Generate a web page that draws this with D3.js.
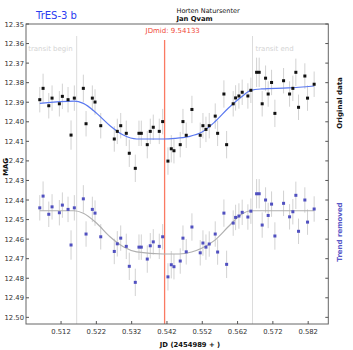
<!DOCTYPE html>
<html><head><meta charset="utf-8">
<script src="https://cdn.jsdelivr.net/npm/d3@7/dist/d3.min.js"></script>
<style>body{margin:0;background:#fff;}svg{display:block;}</style>
</head><body>
<svg id="c" width="353" height="350"></svg>
<script>
const title = "TrES-3 b";
const observatory = "Horten Natursenter";
const observer = "Jan Qvam";
const jdMid = 0.54133;
const transitBegin = 0.51643;
const transitEnd = 0.56623;
const xTicks = [0.512,0.522,0.532,0.542,0.552,0.562,0.572,0.582];
const yTicks = [12.35,12.36,12.37,12.38,12.39,12.40,12.41,12.42,12.43,12.44,12.45,12.46,12.47,12.48,12.49,12.50];

const jd = [0.50597,0.50691,0.50852,0.50945,0.51152,0.51237,0.51398,0.51483,0.51576,0.51831,
0.51908,0.52086,0.52162,0.52324,0.52708,0.52793,0.52890,0.53048,0.53133,0.53303,
0.53407,0.53473,0.53642,0.53727,0.53812,0.53982,0.54078,0.54228,0.54322,0.54398,
0.54576,0.54653,0.54746,0.54907,0.55142,0.55219,0.55304,0.55397,0.55567,0.55635,
0.55813,0.55890,0.56076,0.56144,0.56238,0.56331,0.56492,0.56577,0.56739,0.56812,
0.56897,0.56993,0.57067,0.57163,0.57257,0.57503,0.57673,0.57766,0.57851,0.57927,
0.58106,0.58182,0.58369];

const magOriginal = [12.3887,12.3829,12.3918,12.3879,12.3908,12.3870,12.3887,12.4068,12.3879,12.3829,
12.4010,12.3879,12.3899,12.4020,12.4088,12.4049,12.4020,12.4059,12.4161,12.4238,
12.4059,12.4059,12.4117,12.4049,12.4028,12.4049,12.3999,12.4201,12.4138,12.4148,
12.4117,12.3999,12.4069,12.3937,12.4069,12.4020,12.4039,12.4020,12.3971,12.4059,
12.3858,12.4117,12.3908,12.3878,12.3868,12.3849,12.3868,12.3839,12.3747,12.3747,
12.3908,12.3777,12.3858,12.3799,12.3957,12.3790,12.3858,12.3829,12.3747,12.3926,
12.3766,12.3879,12.3808];

const magDetrended = [12.4440,12.4380,12.4473,12.4435,12.4465,12.4426,12.4448,12.4630,12.4440,12.4394,
12.4574,12.4448,12.4467,12.4588,12.4663,12.4624,12.4595,12.4637,12.4739,12.4821,
12.4641,12.4641,12.4702,12.4634,12.4614,12.4637,12.4588,12.4793,12.4731,12.4741,
12.4712,12.4595,12.4665,12.4538,12.4670,12.4620,12.4641,12.4625,12.4574,12.4666,
12.4467,12.4729,12.4518,12.4489,12.4482,12.4463,12.4487,12.4457,12.4368,12.4368,
12.4528,12.4400,12.4479,12.4421,12.4584,12.4417,12.4486,12.4460,12.4376,12.4560,
12.4400,12.4513,12.4446];

const magErr = [0.0065,0.0075,0.0065,0.0065,0.0065,0.0065,0.0065,0.0075,0.0065,0.0070,
0.0065,0.0065,0.0065,0.0065,0.0065,0.0065,0.0065,0.0065,0.0070,0.0070,
0.0065,0.0065,0.0070,0.0065,0.0065,0.0065,0.0065,0.0070,0.0070,0.0065,
0.0065,0.0065,0.0065,0.0070,0.0065,0.0065,0.0065,0.0065,0.0065,0.0065,
0.0070,0.0070,0.0065,0.0065,0.0065,0.0065,0.0065,0.0065,0.0075,0.0075,
0.0065,0.0065,0.0065,0.0065,0.0070,0.0065,0.0065,0.0065,0.0070,0.0065,
0.0065,0.0065,0.0065];

const fitJd = [0.50597,0.51576,0.51831,0.52210,0.52587,0.52963,0.53342,0.54095,0.54426,0.54803,0.55182,0.55558,0.55935,0.56314,0.56577,0.56880,0.57633,0.58369];
const fitOriginal = [12.3906,12.3894,12.3906,12.3957,12.4020,12.4068,12.4088,12.4088,12.4085,12.4076,12.4054,12.4000,12.3931,12.3872,12.3839,12.3832,12.3827,12.3817];
const fitDetJd = [0.50597,0.51576,0.51831,0.52210,0.52587,0.52963,0.53342,0.54095,0.54548,0.54898,0.55182,0.55558,0.55935,0.56314,0.56577,0.58369];
const fitDetrended = [12.4455,12.4455,12.4468,12.4519,12.4588,12.4639,12.4665,12.4676,12.4676,12.4666,12.4647,12.4605,12.4537,12.4473,12.4455,12.4455];

const svg = d3.select("#c");
const L = 26, R = 328.3, T = 24, B = 324;
const x = d3.scaleLinear().domain([0.50207, 0.5877]).range([L, R]);
const y = d3.scaleLinear().domain([12.35, 12.5034]).range([T, B]);
const font = "DejaVu Sans";

// transit lines
[transitBegin, transitEnd].forEach(v => {
  svg.append("line").attr("x1", x(v)).attr("x2", x(v)).attr("y1", T+12).attr("y2", B)
    .attr("stroke", "#dcdcdc").attr("stroke-width", 1);
});
svg.append("text").attr("x", x(transitBegin)-4).attr("y", 51).attr("text-anchor","end")
  .attr("font-family", font).attr("font-size", 7).attr("fill", "#d4d4d4").text("transit begin");
svg.append("text").attr("x", x(transitEnd)+3).attr("y", 51)
  .attr("font-family", font).attr("font-size", 7).attr("fill", "#d4d4d4").text("transit end");

// JDmid line
svg.append("line").attr("x1", x(jdMid)).attr("x2", x(jdMid)).attr("y1", 40).attr("y2", B)
  .attr("stroke", "#fa7a62").attr("stroke-width", 1.3);
svg.append("text").attr("x", x(jdMid)-19).attr("y", 33)
  .attr("font-family", font).attr("font-size", 7).attr("fill", "#f04a3a").text("JDmid: " + String(9 + jdMid).slice(0, 7));

// error bars
const idx = d3.range(jd.length);
const eb = svg.append("g").attr("stroke", "#d2d2d2").attr("stroke-width", 1);
[magOriginal, magDetrended].forEach(arr => {
  eb.selectAll(null).data(idx).enter().append("line")
    .attr("x1", i => x(jd[i])).attr("x2", i => x(jd[i]))
    .attr("y1", i => y(arr[i]-magErr[i])).attr("y2", i => y(arr[i]+magErr[i]));
});

// fit curves
const line = d3.line().curve(d3.curveMonotoneX);
svg.append("path").attr("d", line(fitJd.map((v,i)=>[x(v), y(fitOriginal[i])])))
  .attr("fill","none").attr("stroke","#5a78f0").attr("stroke-width",1.2);
svg.append("path").attr("d", line(fitDetJd.map((v,i)=>[x(v), y(fitDetrended[i])])))
  .attr("fill","none").attr("stroke","#b0b0b0").attr("stroke-width",1.2);

// points
svg.append("g").selectAll("rect").data(idx).enter().append("rect")
  .attr("x", i => x(jd[i])-1.5).attr("y", i => y(magOriginal[i])-1.5)
  .attr("width", 3).attr("height", 3).attr("fill", "#111");
svg.append("g").selectAll("rect").data(idx).enter().append("rect")
  .attr("x", i => x(jd[i])-1.5).attr("y", i => y(magDetrended[i])-1.5)
  .attr("width", 3).attr("height", 3).attr("fill", "#5050c0");

// frame
svg.append("rect").attr("x", L).attr("y", T).attr("width", R-L).attr("height", B-T)
  .attr("fill","none").attr("stroke","#666").attr("stroke-width",1);

// y ticks left & right
yTicks.forEach(t => {
  svg.append("line").attr("x1", L).attr("x2", L+3).attr("y1", y(t)).attr("y2", y(t)).attr("stroke","#555");
  svg.append("line").attr("x1", R-3).attr("x2", R).attr("y1", y(t)).attr("y2", y(t)).attr("stroke","#555");
  svg.append("text").attr("x", L-2).attr("y", y(t)+2.5).attr("text-anchor","end")
    .attr("font-family", font).attr("font-size", 6.8).attr("fill","#333").text(d3.format(".2f")(t));
});
// x ticks
xTicks.forEach(t => {
  svg.append("line").attr("x1", x(t)).attr("x2", x(t)).attr("y1", B).attr("y2", B-3).attr("stroke","#555");
  svg.append("text").attr("x", x(t)).attr("y", B+10).attr("text-anchor","middle")
    .attr("font-family", font).attr("font-size", 6.8).attr("fill","#333").text(d3.format(".3f")(t));
});

// labels
svg.append("text").attr("x", 36).attr("y", 19).attr("font-family", font).attr("font-size", 10)
  .attr("fill", "#2a3cf0").text(title);
svg.append("text").attr("x", 176.5).attr("y", 12.5).attr("font-family", font).attr("font-size", 6.5)
  .attr("fill", "#111").text(observatory);
svg.append("text").attr("x", 176.5).attr("y", 20.5).attr("font-family", font).attr("font-size", 6.8)
  .attr("font-weight","bold").attr("fill", "#111").text(observer);
svg.append("text").attr("x", 190).attr("y", 346.5).attr("text-anchor","middle").attr("font-family", font)
  .attr("font-size", 6.8).attr("font-weight","bold").attr("fill","#111").text("JD (2454989 + )");
svg.append("text").attr("transform","translate(7.5,167) rotate(-90)").attr("text-anchor","middle")
  .attr("font-family", font).attr("font-size", 6.8).attr("font-weight","bold").attr("fill","#111").text("MAG");
svg.append("text").attr("transform","translate(341.5,103) rotate(-90)").attr("text-anchor","middle")
  .attr("font-family", font).attr("font-size", 7).attr("font-weight","bold").attr("fill","#111").text("Original data");
svg.append("text").attr("transform","translate(341.5,232) rotate(-90)").attr("text-anchor","middle")
  .attr("font-family", font).attr("font-size", 7).attr("font-weight","bold").attr("fill","#5858c8").text("Trend removed");
</script>
</body></html>
